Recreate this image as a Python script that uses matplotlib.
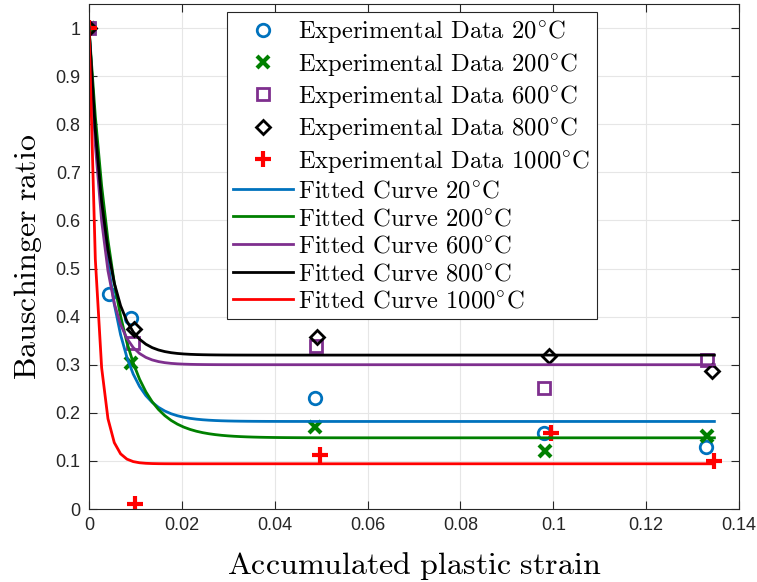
import numpy as np
import matplotlib
matplotlib.use("Agg")
import matplotlib.pyplot as plt

plt.rcParams['mathtext.fontset'] = 'cm'
plt.rcParams['font.family'] = ['Liberation Sans', 'DejaVu Sans']

temps = ['20', '200', '600', '800', '1000']

# Experimental data (accumulated plastic strain, Bauschinger ratio)
x_20 = [0.0, 0.0042, 0.0091, 0.0486, 0.0980, 0.1329]
y_20 = [1.0, 0.446, 0.398, 0.231, 0.159, 0.128]
x_200 = [0.0, 0.0090, 0.0487, 0.0982, 0.1331]
y_200 = [1.0, 0.303, 0.170, 0.121, 0.152]
x_600 = [0.0, 0.0095, 0.0489, 0.0980, 0.1332]
y_600 = [1.0, 0.345, 0.338, 0.251, 0.309]
x_800 = [0.0, 0.0097, 0.0491, 0.0991, 0.1342]
y_800 = [1.0, 0.374, 0.357, 0.318, 0.287]
x_1000 = [0.0, 0.0099, 0.0497, 0.0995, 0.1347]
y_1000 = [1.0, 0.010, 0.112, 0.157, 0.100]

# Fitted curve parameters: y = a + (1 - a) * exp(-x / b)
fit_a = [0.182, 0.148, 0.300, 0.320, 0.094]
fit_b = [0.0045, 0.0056, 0.0032, 0.0036, 0.0018]
fit_xmax = 0.1347

colors = ['#0072BD', '#008000', '#7E2F8E', '#000000', '#FF0000']
markers = ['o', 'x', 's', 'D', '+']
msizes = [9, 8, 9, 7.5, 12]

xs = [x_20, x_200, x_600, x_800, x_1000]
ys = [y_20, y_200, y_600, y_800, y_1000]

fig = plt.figure(figsize=(7.57, 5.82), dpi=100)
ax = fig.add_axes([89/757, 1-509/582, 650/757, 505/582])

for i in range(5):
    mk = markers[i]
    lab = r'Experimental Data %s$^{\circ}$C' % temps[i]
    if mk in ('x', '+'):
        ax.plot(xs[i], ys[i], linestyle='none', marker=mk, color=colors[i],
                markersize=msizes[i], markeredgewidth=3, label=lab)
    else:
        ax.plot(xs[i], ys[i], linestyle='none', marker=mk, markerfacecolor='none',
                markeredgecolor=colors[i], markersize=msizes[i],
                markeredgewidth=2, label=lab)

xf = np.linspace(0, fit_xmax, 100)
for i in range(5):
    yf = fit_a[i] + (1 - fit_a[i]) * np.exp(-xf / fit_b[i])
    ax.plot(xf, yf, color=colors[i], linewidth=2,
            label=r'Fitted Curve %s$^{\circ}$C' % temps[i])

ax.set_xlim(0, 0.14)
ax.set_ylim(0, 1.05)
ax.set_xticks(np.arange(0, 0.141, 0.02))
ax.set_xticklabels(['0', '0.02', '0.04', '0.06', '0.08', '0.1', '0.12', '0.14'])
ax.set_yticks(np.arange(0, 1.01, 0.1))
ax.set_yticklabels(['0', '0.1', '0.2', '0.3', '0.4', '0.5', '0.6', '0.7', '0.8', '0.9', '1'])
ax.tick_params(direction='in', top=True, right=True, labelsize=13, colors='#262626',
               length=6, width=0.8, pad=6)
ax.grid(True, color='#e6e6e6', linewidth=0.8)
ax.set_axisbelow(True)
for sp in ax.spines.values():
    sp.set_color('#262626')
    sp.set_linewidth(0.8)

ax.set_xlabel(r'$\mathrm{Accumulated\ plastic\ strain}$', fontsize=23, labelpad=11)
ax.set_ylabel(r'$\mathrm{Bauschinger\ ratio}$', fontsize=23, labelpad=8)

leg = ax.legend(loc='upper left', bbox_to_anchor=((227-89)/650, (509-12)/505),
                prop={'family': ['cmr10', 'DejaVu Serif'], 'size': 17.7},
                frameon=True, fancybox=False, framealpha=1,
                edgecolor='#262626', handlelength=2.45, handletextpad=0.2,
                labelspacing=0.22, borderpad=0.25, borderaxespad=0)
leg.get_frame().set_linewidth(0.8)

fig.savefig('out.png', dpi=100)
